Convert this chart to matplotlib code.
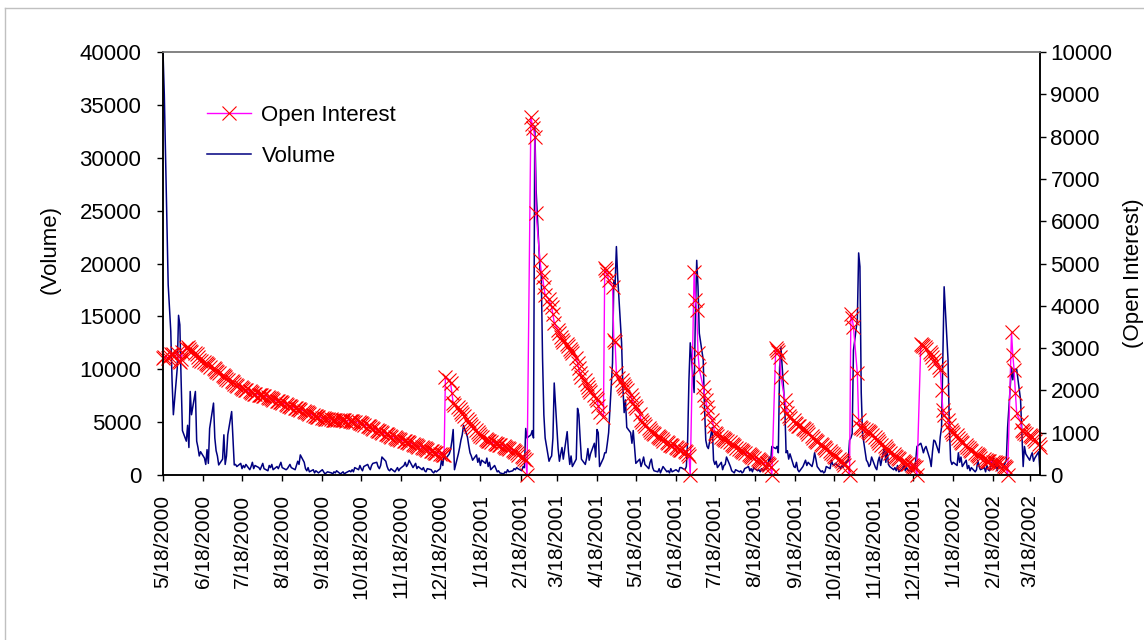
import pandas as pd
import matplotlib
matplotlib.use("Agg")
import matplotlib.pyplot as plt
import matplotlib.dates as mdates
from matplotlib.ticker import FuncFormatter
from matplotlib.lines import Line2D

plt.rcParams['font.family'] = ['Liberation Sans', 'DejaVu Sans']

# trading days starting 5/18/2000, one value per business day
start_date = "2000-05-18"
end_date = "2002-03-26"

open_interest = [
    2770, 2800, 2760, 2820, 2850, 2830, 2860, 2880, 2700, 2680,
    2750, 2900, 3000, 3020, 2970, 2940, 2900, 2880, 2850, 2800,
    2720, 2700, 2680, 2650, 2620, 2590, 2560, 2530, 2500, 2470,
    2430, 2400, 2370, 2340, 2310, 2280, 2250, 2220, 2190, 2160,
    2130, 2100, 2080, 2060, 2040, 2020, 2000, 1980, 1960, 1940,
    1920, 1910, 1900, 1890, 1880, 1870, 1860, 1850, 1830, 1810,
    1800, 1780, 1760, 1740, 1730, 1720, 1700, 1680, 1660, 1640,
    1630, 1610, 1590, 1580, 1560, 1550, 1540, 1520, 1500, 1480,
    1460, 1440, 1420, 1400, 1390, 1370, 1360, 1350, 1340, 1330,
    1330, 1320, 1320, 1310, 1310, 1300, 1300, 1300, 1300, 1290,
    1290, 1280, 1280, 1270, 1270, 1260, 1250, 1250, 1240, 1230,
    1210, 1190, 1170, 1150, 1130, 1110, 1090, 1070, 1050, 1030,
    1020, 1000, 980, 960, 950, 930, 910, 890, 870, 850,
    840, 830, 810, 800, 780, 770, 750, 740, 720, 700,
    690, 670, 660, 640, 630, 610, 590, 570, 560, 540,
    520, 510, 500, 490, 480, 470, 2320, 2250, 2170, 1950,
    1700, 1650, 1600, 1550, 1500, 1450, 1400, 1330, 1270, 1210,
    1150, 1110, 1070, 1020, 980, 930, 890, 850, 830, 810,
    800, 780, 760, 740, 730, 720, 710, 690, 670, 650,
    630, 610, 590, 570, 540, 510, 480, 450, 420, 390,
    350, 0, 8460, 8300, 8200, 8000, 6200, 5080, 4800, 4680,
    4450, 4250, 4150, 4050, 3970, 3800, 3600, 3430, 3350, 3270,
    3190, 3150, 3100, 3050, 2990, 2930, 2880, 2760, 2640, 2520,
    2400, 2320, 2240, 2160, 2080, 2020, 1960, 1890, 1830, 1770,
    1640, 1500, 1370, 4900, 4850, 4750, 4600, 4450, 3200, 3150,
    2400, 2300, 2250, 2150, 2100, 2060, 2000, 1900, 1800, 1700,
    1640, 1580, 1450, 1300, 1250, 1200, 1150, 1100, 1060, 1020,
    990, 960, 930, 900, 870, 840, 810, 780, 750, 720,
    700, 680, 660, 640, 620, 600, 580, 560, 540, 500,
    450, 0, 4800, 4140, 3900, 2880, 2500, 2080, 1900, 1770,
    1600, 1460, 1300, 1150, 990, 960, 930, 900, 870, 850,
    830, 800, 770, 740, 710, 680, 650, 620, 590, 570,
    550, 530, 500, 480, 450, 430, 400, 380, 360, 340,
    310, 290, 280, 260, 230, 200, 0, 3000, 2950, 2900,
    2800, 2320, 1770, 1600, 1460, 1400, 1350, 1290, 1230, 1200,
    1170, 1150, 1120, 1090, 1060, 1020, 980, 930, 880, 830,
    800, 770, 730, 700, 660, 630, 590, 560, 520, 490,
    460, 420, 390, 350, 320, 280, 240, 190, 0, 3800,
    3700, 3500, 2400, 1300, 1140, 1110, 1090, 1060, 1040, 1010,
    990, 950, 900, 860, 810, 760, 720, 680, 640, 600,
    560, 520, 490, 460, 430, 400, 370, 340, 310, 280,
    260, 250, 230, 210, 190, 180, 0, 3100, 3080, 3050,
    3030, 2970, 2900, 2850, 2780, 2720, 2640, 2560, 2480, 2000,
    1540, 1420, 1300, 1180, 1060, 1020, 980, 940, 880, 830,
    790, 750, 710, 670, 630, 590, 560, 530, 500, 470,
    440, 410, 380, 350, 340, 330, 320, 310, 300, 290,
    285, 280, 250, 220, 190, 170, 0, 3380, 2840, 2480,
    1940, 1460, 1250, 1060, 1030, 1000, 980, 950, 930, 900,
    850, 800, 730, 660,
]

volume = [
    40000, 36000, 18000, 15800, 13600, 8900, 5700, 10100, 15100, 14200,
    8900, 4200, 3200, 4700, 2600, 7900, 5700, 7900, 3200, 2600,
    1800, 2200, 1600, 1000, 2400, 1100, 4400, 6800, 3500, 2300,
    1800, 950, 1500, 3800, 1000, 1800, 3800, 6000, 3500, 950,
    1000, 800, 1100, 600, 900, 700, 1000, 500, 800, 1200,
    600, 900, 700, 500, 800, 1100, 600, 400, 900, 700,
    1000, 500, 800, 600, 900, 1200, 700, 500, 600, 800,
    1000, 700, 500, 900, 1300, 1000, 1900, 1200, 600, 400,
    700, 300, 500, 200, 400, 300, 200, 500, 300, 100,
    200, 300, 200, 100, 300, 200, 400, 100, 200, 300,
    100, 200, 400, 300, 500, 300, 700, 500, 900, 600,
    400, 800, 1000, 700, 500, 900, 1100, 1200, 800, 600,
    900, 1700, 1300, 800, 500, 400, 600, 300, 500, 700,
    400, 600, 900, 1200, 800, 1000, 1400, 700, 900, 1100,
    600, 800, 500, 700, 400, 300, 600, 500, 300, 200,
    400, 300, 600, 1400, 900, 2100, 1500, 2000, 2400, 3200,
    4300, 500, 2000, 2600, 3300, 3800, 4700, 3600, 2800, 2100,
    1800, 1400, 1900, 1200, 1600, 900, 1400, 1100, 1600, 800,
    1200, 500, 900, 600, 300, 400, 200, 100, 300, 200,
    500, 300, 400, 600, 500, 700, 600, 400, 800, 700,
    4400, 3500, 3800, 4200, 3500, 33000, 27000, 19400, 19000, 11000,
    5700, 3500, 1300, 1600, 1800, 3500, 8700, 2500, 1300, 2000,
    2600, 1500, 4100, 2200, 1000, 1800, 800, 1500, 6300, 5700,
    3500, 1500, 1000, 1600, 2500, 1400, 2000, 3000, 1700, 4300,
    4000, 800, 1600, 2100, 2100, 3000, 4000, 10600, 18400, 18000,
    21600, 18700, 12500, 8300, 5900, 7100, 4500, 4000, 3000, 4200,
    2700, 1100, 1500, 800, 1200, 1700, 1000, 600, 1200, 1500,
    700, 400, 300, 600, 200, 500, 800, 300, 400, 200,
    600, 300, 500, 400, 300, 700, 700, 500, 800, 3300,
    9000, 12500, 7800, 15300, 20300, 17800, 13400, 10900, 6400, 3300,
    2700, 2500, 4500, 1400, 1000, 1300, 700, 1200, 500, 900,
    1000, 1700, 800, 400, 300, 200, 500, 300, 400, 200,
    300, 600, 800, 400, 600, 300, 700, 400, 500, 300,
    600, 400, 800, 1000, 1700, 1200, 2700, 2500, 2700, 2100,
    10200, 12100, 6400, 2100, 2300, 1500, 2000, 800, 700, 1200,
    500, 300, 800, 1100, 1400, 900, 1200, 800, 1300, 2100,
    1500, 800, 300, 400, 200, 300, 800, 600, 1400, 1000,
    900, 1100, 800, 600, 900, 700, 1000, 1400, 3300, 3500,
    3900, 11800, 14700, 21000, 19700, 7800, 3900, 1400, 1200, 800,
    1000, 1700, 700, 500, 1300, 1700, 900, 2700, 1200, 2400,
    1000, 800, 500, 700, 400, 900, 300, 600, 1000, 400,
    700, 500, 300, 800, 600, 1300, 2700, 3000, 2600, 2100,
    2500, 2700, 1500, 800, 2200, 3300, 3200, 2100, 3600, 4500,
    10900, 17800, 10900, 4700, 1400, 1000, 1200, 900, 2100, 1200,
    1700, 800, 1400, 600, 900, 400, 700, 300, 500, 1400,
    800, 500, 700, 300, 900, 500, 400, 1700, 600, 1100,
    400, 800, 600, 900, 1100, 1400, 4500, 10200, 9000, 10000,
    10000, 10000, 7100, 4000, 800, 2700, 2000, 1400, 1800, 2100,
    1300, 1600, 2200, 300,
]

n = min(len(open_interest), len(volume))
dates = pd.bdate_range(start_date, periods=n)

W, H = 1144, 640
fig = plt.figure(figsize=(W / 100, H / 100), dpi=100)
fig.patch.set_facecolor("white")

# chart area border (Excel style)
fig.add_artist(Line2D([5 / W, 1], [1 - 8 / H, 1 - 8 / H], transform=fig.transFigure,
                      color="#c0c0c0", lw=1))
fig.add_artist(Line2D([5 / W, 5 / W], [0, 1 - 8 / H], transform=fig.transFigure,
                      color="#c0c0c0", lw=1))

ax = fig.add_axes([163 / W, 1 - 475 / H, (1040 - 163) / W, (475 - 52) / H])
ax2 = ax.twinx()

vol_line, = ax.plot(dates, volume[:n], color="#000080", lw=1.1, label="Volume")
oi_line, = ax2.plot(dates, open_interest[:n], color="#FF00FF", lw=1.0,
                    marker="x", markersize=9.5, markeredgecolor="#FF0000",
                    markeredgewidth=0.8, clip_on=False, label="Open Interest")

ax.set_ylim(0, 40000)
ax.set_yticks(range(0, 40001, 5000))
ax2.set_ylim(0, 10000)
ax2.set_yticks(range(0, 10001, 1000))

ax.set_xlim(pd.Timestamp(start_date), pd.Timestamp(end_date))
ax.xaxis.set_major_locator(mdates.MonthLocator(bymonthday=18))


def date_label(v, pos):
    d = mdates.num2date(v)
    return f"{d.month}/{d.day}/{d.year}"


ax.xaxis.set_major_formatter(FuncFormatter(date_label))

ax.tick_params(axis="x", labelrotation=90, labelsize=15, length=4, width=1, pad=10)
ax.tick_params(axis="y", labelsize=16, length=4.5, width=1, pad=11)
ax2.tick_params(axis="y", labelsize=16, length=4.5, width=1, pad=3)

for a in (ax, ax2):
    a.spines["top"].set_color("#808080")
    for s in ("left", "right", "bottom"):
        a.spines[s].set_color("black")
    for s in a.spines.values():
        s.set_linewidth(1.1)

fig.text(50 / W, 1 - 250 / H, "(Volume)", rotation=90, ha="center", va="center", fontsize=16)
fig.text(1133 / W, 1 - 273 / H, "(Open Interest)", rotation=90, ha="center", va="center",
         fontsize=16)

ax2.legend(handles=[oi_line, vol_line], loc="upper left",
           bbox_to_anchor=(207 / W, 1 - 105 / H), bbox_transform=fig.transFigure,
           frameon=False, fontsize=16, borderpad=0, borderaxespad=0,
           handlelength=2.0, handletextpad=0.45, labelspacing=0.9)

fig.savefig("out.png", dpi=100)
